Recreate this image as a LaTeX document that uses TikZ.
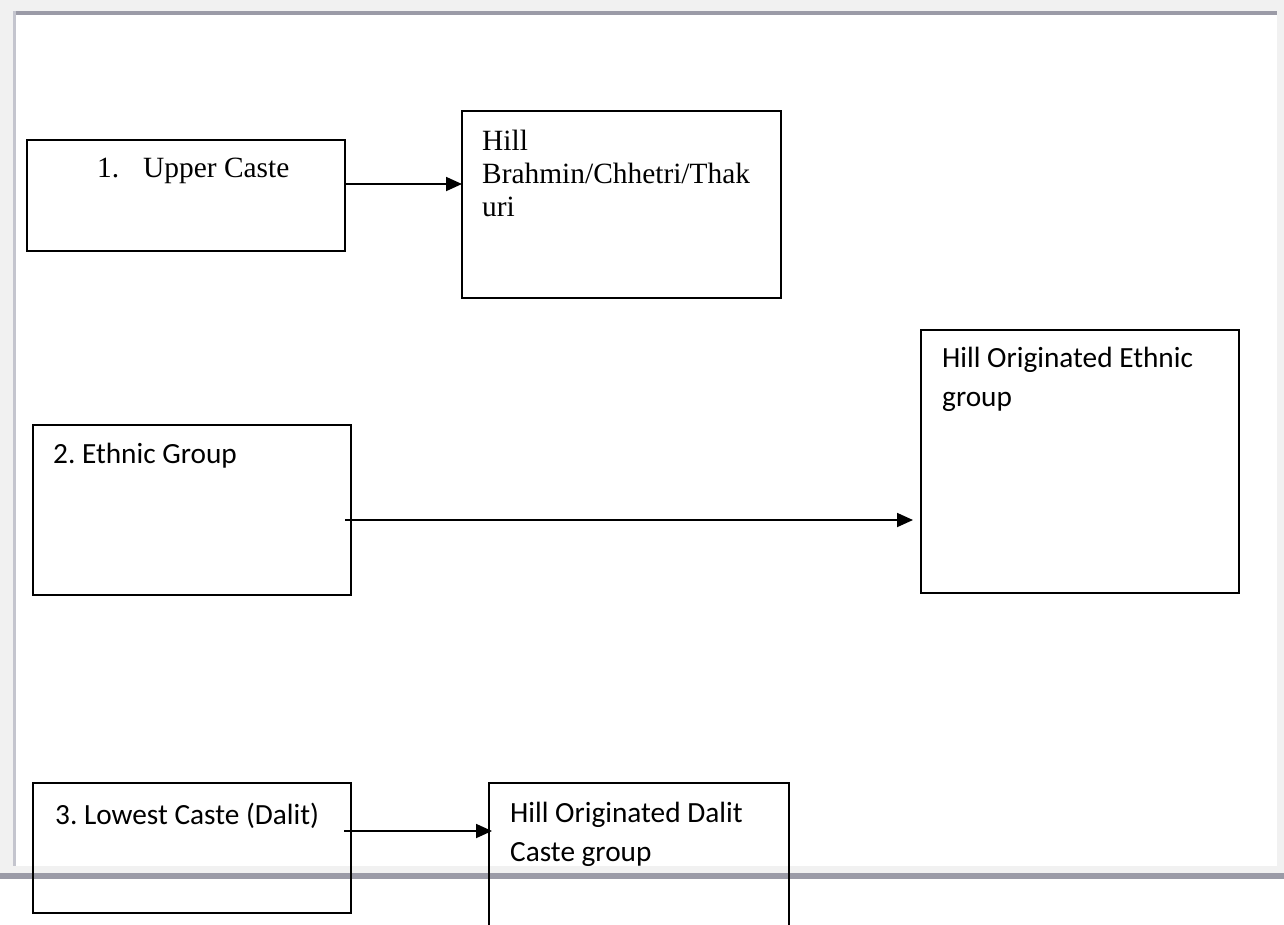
\documentclass[tikz,border=0pt]{standalone}
\usepackage{fontspec}
\setmainfont{Liberation Serif}
\newfontfamily\calfont{Carlito}
\usetikzlibrary{arrows.meta}
\definecolor{framebg}{HTML}{F1F1F1}
\definecolor{framedark}{HTML}{9B9BA7}
\definecolor{frameleft}{HTML}{C4C5CE}
\frenchspacing
\begin{document}
\begin{tikzpicture}[x=1pt,y=-1pt,
  box/.style={draw=black, line width=1.9pt, inner sep=0pt, outer sep=0pt, anchor=north west},
  txtT/.style={anchor=base west, inner sep=0pt, font=\fontsize{29.4}{33}\selectfont, align=left},
  txtC/.style={anchor=base west, inner sep=0pt, font=\calfont\fontsize{29.3}{38.5}\selectfont, align=left},
  arr/.style={line width=1.8pt, -{Triangle[length=16pt,width=14pt]}}]
\useasboundingbox (0,0) rectangle (1284,924);
\clip (0,0) rectangle (1284,924);
% window frame
\fill[white] (0,0) rectangle (1284,924);
\fill[framebg] (0,0) rectangle (1284,873);
\fill[white] (16,15) rectangle (1277,866);
\fill[framedark] (13,11) rectangle (1277,15);
\fill[frameleft] (13,11) rectangle (16,866);
\fill[framedark] (0,873) rectangle (1284,879);
% boxes
\node[box, minimum width=318pt, minimum height=111pt] (b1) at (27,140) {};
\node[box, minimum width=319pt, minimum height=187pt] (b2) at (462,111) {};
\node[box, minimum width=318pt, minimum height=170pt] (b3) at (33,425) {};
\node[box, minimum width=318pt, minimum height=263pt] (b4) at (921,330) {};
\node[box, minimum width=318pt, minimum height=130pt] (b5) at (33,783) {};
\node[box, minimum width=300pt, minimum height=160pt] (b6) at (489,783) {};
% texts (anchor = baseline of last line)
\node[txtT] (t1) at (97,177) {1.\hspace{24pt}Upper Caste};
\node[txtT] (t2) at (482,216) {Hill\\Brahmin/Chhetri/Thak\\uri};
\node[txtC] (t3) at (53,463) {2. Ethnic Group};
\node[txtC] (t4) at (942,406) {Hill Originated Ethnic\\group};
\node[txtC] (t5) at (55,824) {3. Lowest Caste (Dalit)};
\node[txtC] (t6) at (510,861) {Hill Originated Dalit\\Caste group};
% connectors
\draw[arr] (b1.east |- 0,184) -- (b2.west |- 0,184);
\draw[arr, shorten <=-6pt, shorten >=8pt] (b3.east |- 0,520) -- (b4.west |- 0,520);
\draw[arr, shorten <=-7pt, shorten >=-3pt] (b5.east |- 0,831) -- (b6.west |- 0,831);
\end{tikzpicture}
\end{document}
